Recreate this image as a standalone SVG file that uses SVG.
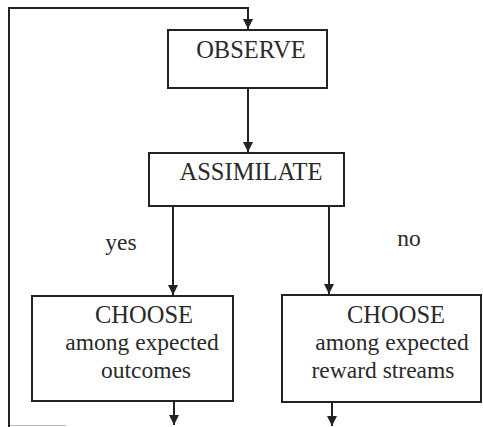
<svg xmlns="http://www.w3.org/2000/svg" width="483" height="427" viewBox="0 0 483 427">
<defs>
<marker id="ah" viewBox="0 0 10 10" refX="10" refY="5" markerWidth="5" markerHeight="5" orient="auto" markerUnits="strokeWidth">
<path d="M0,0 L10,5 L0,10 z" fill="#222"/>
</marker>
<style>
.box{fill:#fff;stroke:#222;stroke-width:2}
.ln{fill:none;stroke:#222;stroke-width:2}
.t{font-family:"Liberation Serif","Times New Roman",serif;fill:#2a2a2a;text-anchor:middle}
.big{font-size:24.5px}
.mid{font-size:23.5px}
</style>
</defs>
<rect width="483" height="427" fill="#fff"/>
<g id="connectors">
<path class="ln" d="M248,8 H9 V427"/>
<path class="ln" d="M9,8 H248 V29" marker-end="url(#ah)"/>
<path class="ln" d="M248,88 V152" marker-end="url(#ah)"/>
<path class="ln" d="M173,206 V295" marker-end="url(#ah)"/>
<path class="ln" d="M329,206 V294" marker-end="url(#ah)"/>
<path class="ln" d="M174,401 V425" marker-end="url(#ah)"/>
<path class="ln" d="M332,402 V426" marker-end="url(#ah)"/>
<path d="M10,425.5 H66" stroke="#bbb" stroke-width="1"/>
</g>
<g id="observe">
<rect class="box" x="168" y="30" width="159" height="58"/>
<text class="t big" x="251" y="58">OBSERVE</text>
</g>
<g id="assimilate">
<rect class="box" x="149" y="153" width="195" height="53"/>
<text class="t big" x="251" y="180">ASSIMILATE</text>
</g>
<g id="label-yes">
<text class="t mid" x="121" y="250">yes</text>
</g>
<g id="label-no">
<text class="t mid" x="409" y="246">no</text>
</g>
<g id="choose-outcomes">
<rect class="box" x="32" y="296" width="201" height="105"/>
<text class="t big" x="144" y="323">CHOOSE</text>
<text class="t mid" x="142" y="350">among expected</text>
<text class="t mid" x="146" y="378">outcomes</text>
</g>
<g id="choose-rewards">
<rect class="box" x="282" y="295" width="199" height="107"/>
<text class="t big" x="396" y="323">CHOOSE</text>
<text class="t mid" x="392" y="350">among expected</text>
<text class="t mid" x="383" y="378">reward streams</text>
</g>
</svg>
